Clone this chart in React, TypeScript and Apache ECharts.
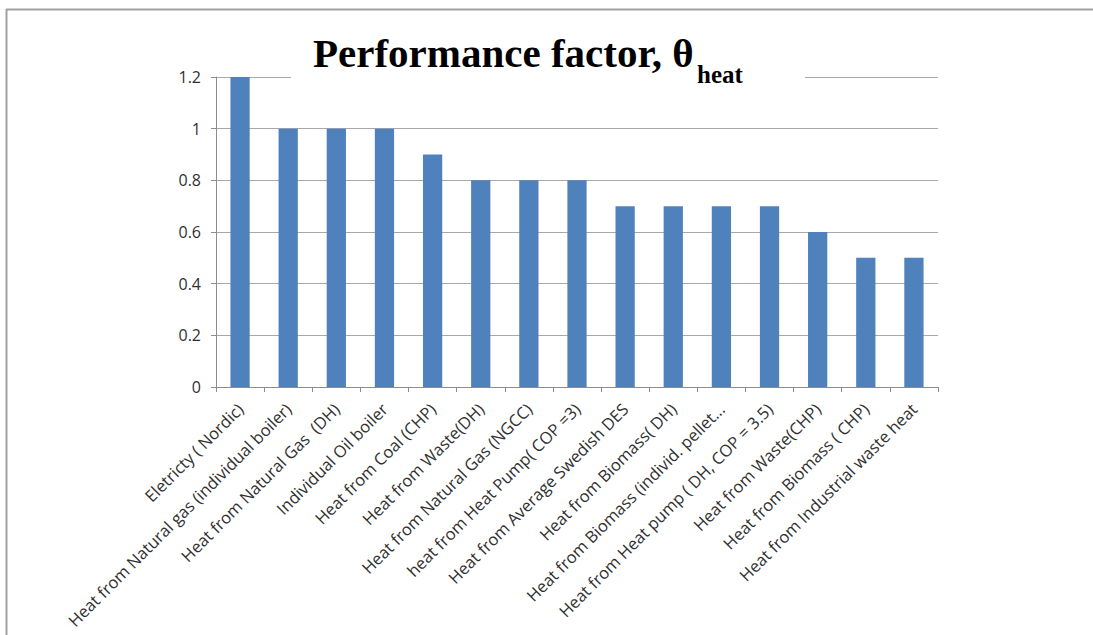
import React, { useEffect, useRef } from "react";
import * as echarts from "echarts";

const categories: string[] = [
  "Eletricty ( Nordic)",
  "Heat from Natural gas (individual boiler)",
  "Heat from Natural Gas  (DH)",
  "Individual Oil boiler",
  "Heat from Coal (CHP)",
  "Heat from Waste(DH)",
  "Heat from Natural Gas (NGCC)",
  "heat from Heat Pump( COP =3)",
  "Heat from Average Swedish DES",
  "Heat from Biomass( DH)",
  "Heat from Biomass (individ. pellet...",
  "Heat from Heat pump ( DH, COP = 3.5)",
  "Heat from Waste(CHP)",
  "Heat from Biomass ( CHP)",
  "Heat from Industrial waste heat",
];

const values: number[] = [1.2, 1, 1, 1, 0.9, 0.8, 0.8, 0.8, 0.7, 0.7, 0.7, 0.7, 0.6, 0.5, 0.5];

const yMin = 0;
const yMax = 1.2;
const yStep = 0.2;

const titleMain = "Performance factor, θ";
const titleSub = "heat";

export default function App() {
  const ref = useRef<HTMLDivElement>(null);

  useEffect(() => {
    if (!ref.current) return;
    const chart = echarts.init(ref.current, null, { renderer: "svg" });
    const labelFont = "'Open Sans', 'Liberation Sans', sans-serif";
    chart.setOption({
      animation: false,
      backgroundColor: "#ffffff",
      grid: { left: 216, right: 155, top: 77, bottom: 248, containLabel: false },
      xAxis: {
        type: "category",
        data: categories,
        axisLine: { show: true, lineStyle: { color: "#8c8c8c", width: 1 } },
        axisTick: { show: true, length: 5, lineStyle: { color: "#8c8c8c" } },
        axisLabel: {
          rotate: 45,
          interval: 0,
          margin: 19,
          fontSize: 16.5,
          fontFamily: labelFont,
          color: "#303030",
        },
      },
      yAxis: {
        type: "value",
        min: yMin,
        max: yMax,
        interval: yStep,
        axisLine: { show: true, lineStyle: { color: "#8c8c8c", width: 1 } },
        axisTick: { show: true, length: 5, inside: false, lineStyle: { color: "#8c8c8c" } },
        splitLine: { show: true, lineStyle: { color: "#a8a8a8", width: 1 } },
        axisLabel: {
          margin: 15,
          fontSize: 16,
          fontFamily: labelFont,
          color: "#303030",
          formatter: (v: number) => String(Math.round(v * 10) / 10),
        },
      },
      series: [
        {
          type: "bar",
          data: values,
          barWidth: "40%",
          itemStyle: { color: "#4f81bd" },
        },
      ],
      graphic: [
        {
          type: "line",
          z: 100,
          shape: { x1: 6, y1: 9.5, x2: 1093, y2: 9.5 },
          style: { stroke: "#a0a0a0", lineWidth: 2 },
        },
        {
          type: "line",
          z: 100,
          shape: { x1: 6.5, y1: 9, x2: 6.5, y2: 635 },
          style: { stroke: "#a0a0a0", lineWidth: 2 },
        },
        {
          type: "rect",
          z: 100,
          shape: { x: 291, y: 24, width: 514, height: 58 },
          style: { fill: "#ffffff" },
        },
        {
          type: "text",
          z: 101,
          x: 313,
          y: 32,
          style: {
            text: titleMain,
            font: "bold 41px 'Liberation Serif', 'DejaVu Serif', serif",
            fill: "#000000",
            textAlign: "left",
            verticalAlign: "top",
          },
        },
        {
          type: "text",
          z: 101,
          x: 697,
          y: 62,
          style: {
            text: titleSub,
            font: "bold 25px 'Liberation Serif', 'DejaVu Serif', serif",
            fill: "#000000",
            textAlign: "left",
            verticalAlign: "top",
          },
        },
      ],
    });
    return () => chart.dispose();
  }, []);

  return (
    <div
      ref={ref}
      style={{ position: "absolute", left: 0, top: 0, width: 1093, height: 635 }}
    />
  );
}
